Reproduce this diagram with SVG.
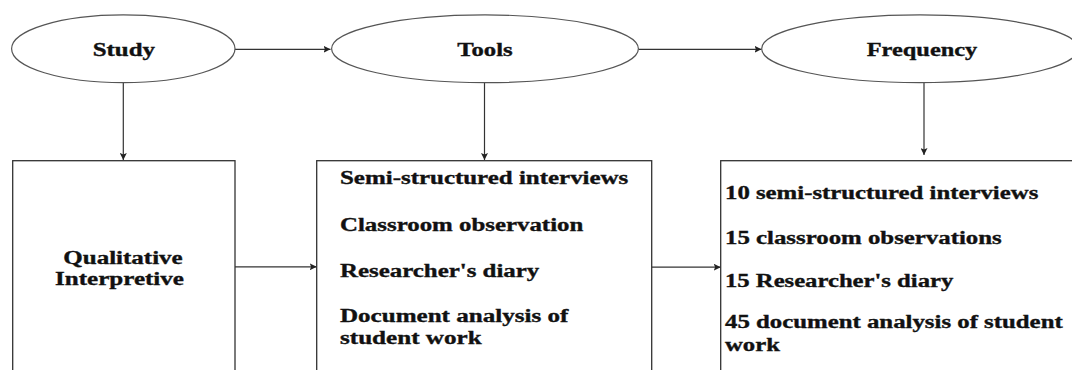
<svg xmlns="http://www.w3.org/2000/svg" width="1072" height="370" viewBox="0 0 1072 370">
<style>
  .bg { fill: #ffffff; }
  .node-ellipse { fill: #ffffff; stroke: #555555; stroke-width: 1.2; }
  .node-box { fill: #ffffff; stroke: #333333; stroke-width: 1.3; }
  .lbl { font-family: "Liberation Serif", "Times New Roman", serif; font-weight: bold; font-size: 18.5px; fill: #111111; stroke: #111111; stroke-width: 0.35; }
  .conn { stroke: #333333; stroke-width: 1.2; fill: none; marker-end: url(#arrow); }
</style>
<defs>
  <marker id="arrow" viewBox="0 0 10 10" refX="10" refY="5" markerWidth="7" markerHeight="7" markerUnits="userSpaceOnUse" orient="auto">
    <path d="M0,0 L10,5 L0,10 L2,5 Z" fill="#222222"/>
  </marker>
</defs>
<rect class="bg" x="0" y="0" width="1072" height="370"/>

<g id="connectors">
  <line class="conn" x1="235" y1="49.3" x2="330.5" y2="49.3"/>
  <line class="conn" x1="638.5" y1="49.3" x2="761.5" y2="49.3"/>
  <line class="conn" x1="123.3" y1="82.7" x2="123.3" y2="160"/>
  <line class="conn" x1="484.5" y1="82.7" x2="484.5" y2="160"/>
  <line class="conn" x1="924" y1="82.7" x2="924" y2="155"/>
  <line class="conn" x1="235" y1="266.8" x2="316.7" y2="266.8"/>
  <line class="conn" x1="651.7" y1="267.2" x2="720.7" y2="267.2"/>
</g>

<g id="node-study">
  <ellipse class="node-ellipse" cx="123.3" cy="48.8" rx="111.7" ry="33.9"/>
  <text class="lbl" x="92.7" y="55.7" textLength="62.3" lengthAdjust="spacingAndGlyphs">Study</text>
</g>

<g id="node-tools">
  <ellipse class="node-ellipse" cx="485" cy="48.8" rx="153.4" ry="33.9"/>
  <text class="lbl" x="457.3" y="55.7" textLength="55.4" lengthAdjust="spacingAndGlyphs">Tools</text>
</g>

<g id="node-frequency">
  <ellipse class="node-ellipse" cx="920" cy="48.8" rx="158.3" ry="33.9"/>
  <text class="lbl" x="866.7" y="55.7" textLength="110.6" lengthAdjust="spacingAndGlyphs">Frequency</text>
</g>

<g id="node-qualitative">
  <rect class="node-box" x="12.7" y="160.7" width="222.3" height="230"/>
  <text class="lbl" x="63.3" y="264" textLength="119.4" lengthAdjust="spacingAndGlyphs">Qualitative</text>
  <text class="lbl" x="55" y="285" textLength="129" lengthAdjust="spacingAndGlyphs">Interpretive</text>
</g>

<g id="node-tools-list">
  <rect class="node-box" x="316.7" y="160.7" width="335" height="230"/>
  <text class="lbl" x="340" y="184" textLength="288.3" lengthAdjust="spacingAndGlyphs">Semi-structured interviews</text>
  <text class="lbl" x="340" y="230.7" textLength="243.3" lengthAdjust="spacingAndGlyphs">Classroom observation</text>
  <text class="lbl" x="340" y="276.7" textLength="199.3" lengthAdjust="spacingAndGlyphs">Researcher's diary</text>
  <text class="lbl" x="340" y="321.7" textLength="228.3" lengthAdjust="spacingAndGlyphs">Document analysis of</text>
  <text class="lbl" x="340" y="344.3" textLength="141.7" lengthAdjust="spacingAndGlyphs">student work</text>
</g>

<g id="node-frequency-list">
  <rect class="node-box" x="720.7" y="160.7" width="380" height="230"/>
  <text class="lbl" x="725" y="199.3" textLength="313.3" lengthAdjust="spacingAndGlyphs">10 semi-structured interviews</text>
  <text class="lbl" x="725" y="244" textLength="276.7" lengthAdjust="spacingAndGlyphs">15 classroom observations</text>
  <text class="lbl" x="725" y="287.3" textLength="228.3" lengthAdjust="spacingAndGlyphs">15 Researcher's diary</text>
  <text class="lbl" x="725" y="328.3" textLength="337.7" lengthAdjust="spacingAndGlyphs">45 document analysis of student</text>
  <text class="lbl" x="725" y="350.7" textLength="55" lengthAdjust="spacingAndGlyphs">work</text>
</g>
</svg>
